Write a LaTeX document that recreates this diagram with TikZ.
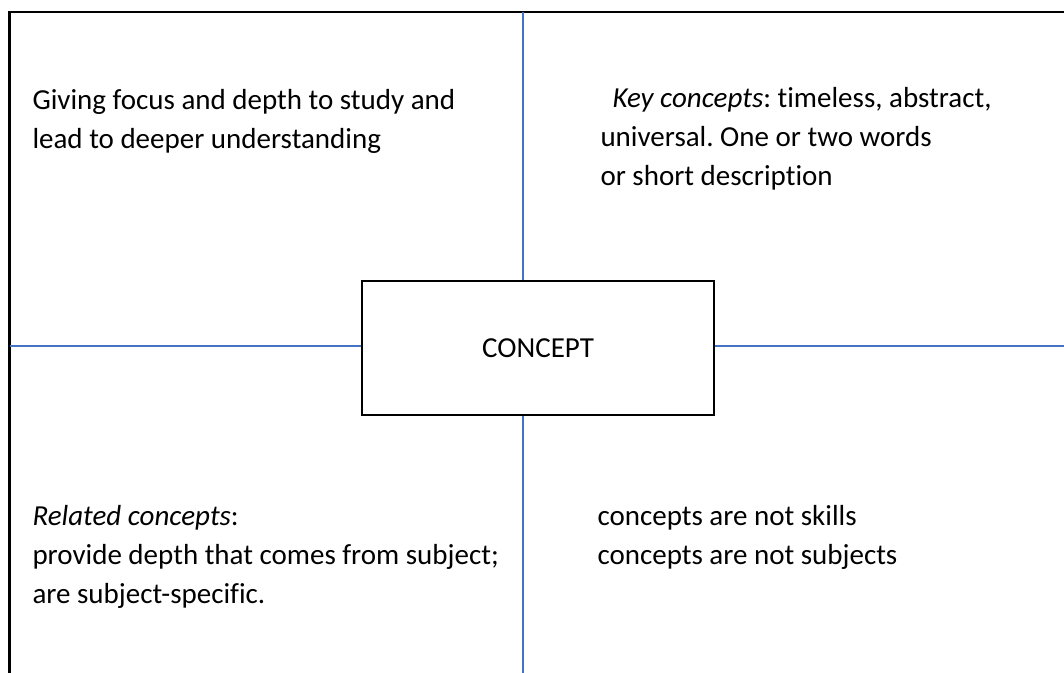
\documentclass[tikz,border=0pt]{standalone}
\usepackage{fontspec}
\setmainfont{Carlito}[Ligatures={NoCommon}]
\frenchspacing
\definecolor{wordblue}{RGB}{68,114,196}
\tikzset{every picture/.style={line width=0.75pt}}

\begin{document}
\begin{tikzpicture}[x=0.75pt,y=0.75pt,yscale=-1,xscale=1,
  quadtext/.style={anchor=base west, align=left, inner sep=0pt, font=\fontsize{21.75}{28.9}\selectfont},
  divider/.style={draw=wordblue, line width=1.1pt}]
\useasboundingbox (0,0) rectangle (1064,672);
\clip (0,0) rectangle (1064,672);

%Shape: Outer frame
\draw [line width=2pt] (9.5,12) rectangle (1080,690) ;

%Shape: Rectangle
\node [draw, line width=1.5pt, minimum width=264pt, minimum height=100.5pt, inner sep=0pt, font=\fontsize{21.75}{26}\selectfont] (concept) at (538,348) {CONCEPT};

%Straight Lines
\coordinate (topend) at (523,12);
\coordinate (bottomend) at (523,680);
\coordinate (leftend) at (9.5,346);
\coordinate (rightend) at (1064,346);
\draw [divider] (topend) -- (topend |- concept.north) ;
\draw [divider] (bottomend) -- (bottomend |- concept.south) ;
\draw [divider] (leftend) -- (leftend -| concept.west) ;
\draw [divider] (rightend) -- (rightend -| concept.east) ;

% Text Node
\node [quadtext] (focus) at (32,148) {Giving focus and depth to study and\\lead to deeper understanding};
% Text Node
\node [quadtext] (key) at (600,185) {\hspace*{9pt}\textit{Key concepts}: timeless, abstract,\\universal. One or two words\\or short description};
% Text Node
\node [quadtext] (related) at (32,603) {\textit{Related concepts}:\\provide depth that comes from subject;\\are subject-specific.};
% Text Node
\node [quadtext] (notskills) at (597,564) {concepts are not skills\\concepts are not subjects};

\end{tikzpicture}
\end{document}
